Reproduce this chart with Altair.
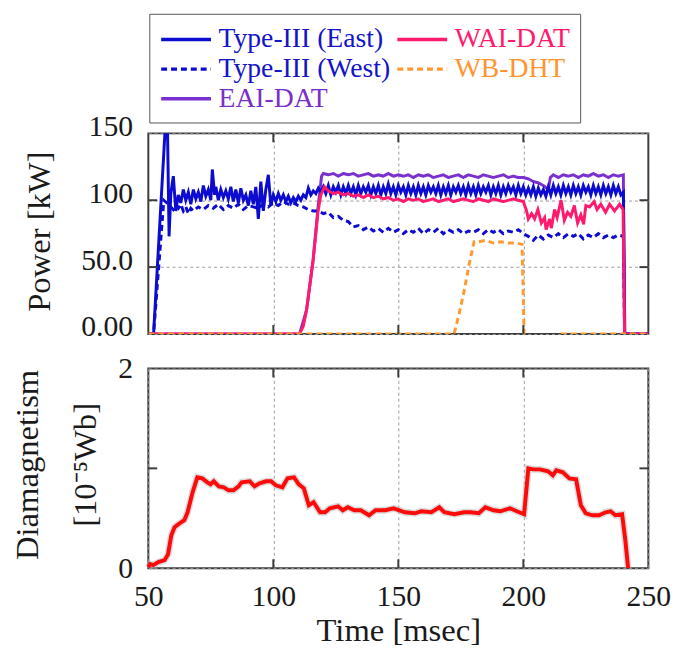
import altair as alt
import pandas as pd

# ---------------- data ----------------
series_names = ["Type-III (East)", "Type-III (West)", "EAI-DAT", "WAI-DAT", "WB-DHT"]
series_colors = ["#0c0cd0", "#0c0cd0", "#7a2fd0", "#ff1a6e", "#ff9a33"]
series_dash = [[1, 0], [6, 4], [1, 0], [1, 0], [6, 4]]

east_t = ([50, 52.1, 57.0, 57.6, 58.3] + list(range(59, 76)) + [75.6, 76.5]
          + list(range(77, 241)) + [240.6, 250])
east_p = ([0, 0, 162, 162, 73]
          + [105, 118, 92, 104, 98, 108, 100, 106, 97, 108, 101, 106, 99, 111, 103, 108, 100]
          + [123, 104]
          + [110, 100, 108, 102, 107, 101, 110, 99, 108, 98, 109, 100, 104, 96, 107, 97, 110, 86,
             114, 92, 108, 119, 96, 104, 99, 105, 100, 104, 99, 103, 98, 102, 99, 103, 100, 104,
             102, 109, 104, 107, 105, 109, 106]
          + [110, 105, 111, 104, 110, 106, 111, 104, 110, 105,
             111, 105, 110, 104, 111, 105, 110, 106, 111, 104,
             110, 105, 111, 104, 110, 105, 112, 105, 110, 104,
             111, 106, 110, 104, 111, 105, 110, 104, 111, 105,
             110, 104, 111, 106, 110, 105, 111, 104, 110, 105,
             111, 104, 110, 106, 111, 105, 110, 104, 111, 105,
             110, 104, 111, 105, 110, 106, 111, 104, 110, 105,
             111, 104, 110, 105, 111, 106, 110, 104, 111, 105,
             110, 104, 109, 104, 110, 103, 109, 104, 108, 103,
             110, 104, 111, 105, 110, 104, 111, 105, 110, 104,
             111, 105, 110, 104, 111, 106, 110, 104, 111, 105,
             110, 104, 111, 105, 110, 104, 111, 105, 110, 104,
             106]
          + [0, 0])

west_t = ([50, 52.1, 56.2, 58, 59, 60, 61, 62, 63, 64, 65, 66, 67, 68]
          + list(range(70, 117, 2)) + list(range(118, 241, 2)) + [240.5, 250])
west_p = ([0, 0, 100, 97, 95, 93, 96, 94, 97, 92, 95, 90, 94, 92]
          + [95, 93, 96, 94, 97, 93, 96, 94, 97, 93, 96, 95, 94, 97, 95, 98, 96, 99, 97, 98,
             96, 95, 93, 92]
          + [92, 90, 91, 87, 88, 85, 84, 80, 81, 78,
             80, 77, 79, 76, 79, 76, 78, 75, 78, 76,
             79, 75, 78, 76, 79, 75, 78, 76, 78, 75,
             77, 76, 78, 75, 78, 76, 78, 75, 77, 76,
             78, 75, 73, 70, 74, 71, 74, 72, 75, 72,
             75, 73, 75, 71, 74, 72, 75, 72, 74, 72,
             74, 73]
          + [0, 0])

eai_t = ([50, 110.5, 113.3, 115.9, 117.9, 119.3] + list(range(120, 211, 2)) + [210.8]
         + list(range(212, 241, 2)) + [240.5, 250])
eai_p = ([0, 0, 18, 55, 95, 118]
         + [120, 119, 120, 118, 120, 119, 120, 118, 119, 120,
            118, 119, 118, 120, 118, 119, 118, 119, 117, 119,
            118, 119, 117, 118, 119, 117, 118, 119, 117, 119,
            118, 117, 119, 118, 117, 118, 119, 117, 118, 117,
            117, 116, 114, 113, 111, 108]
         + [117]
         + [119, 117, 119, 118, 119, 117, 119, 118, 120, 118, 119, 117, 119, 118, 119]
         + [0, 0])

wai_t = ([50, 110.5, 112, 113.3, 114.5, 115.9, 117, 117.9, 119, 120.5] + list(range(122, 201, 2))
         + [201.3, 202, 203.3, 204.5, 205.8, 207.2, 208.5, 209.1, 210.5, 211.2,
            212.5, 213.5, 215.1, 216.4, 217.7, 219, 220.4, 221.7, 223, 224.1,
            225, 226.5, 228.3, 229.5, 231, 232.9, 234.5, 236.5, 238.5, 239.9,
            240.5, 250])
wai_p = ([0, 0, 6, 18, 35, 55, 75, 92, 104, 110]
         + [107, 105, 106, 104, 105, 103, 104, 102, 104, 102,
            103, 101, 102, 100, 101, 99, 101, 100, 101, 99,
            100, 101, 99, 100, 101, 99, 100, 101, 100, 99,
            101, 100, 99, 101, 100, 99, 100, 101, 100, 99]
         + [92, 86, 90, 86, 93, 83, 87, 78, 86, 79,
            93, 87, 100, 85, 91, 88, 96, 83, 89, 82,
            96, 95, 99, 93, 97, 91, 97, 92, 97, 93,
            0, 0])

wb1_t = [50, 172.3, 174.3, 176.3, 178.3, 180.3, 182.3, 185, 188, 191, 194, 197, 199.5, 200.3]
wb1_p = [0, 0, 15, 32, 52, 69, 69, 70, 68, 69, 68, 68, 67, 0]
wb2_t = [215, 250]
wb2_p = [0, 0]

diam_t = [50, 50.8, 52, 54, 56.5, 57.9, 59.2, 60.5, 62.5, 64.4,
          65.7, 67.7, 69.6, 71.6, 73.6, 74.9, 76.2, 78.2, 80.2, 82.1,
          84.1, 86.1, 87.3, 90.6, 92.5, 94.5, 97.1, 99.1, 101.0, 103.6,
          105.7, 108.3, 110.2, 112.2, 114.2, 116.1, 118.7, 120.7, 122.6, 125.9,
          127.8, 129.8, 132.4, 135.0, 138.3, 140.9, 144.8, 148.1, 152.6, 156.6,
          159.2, 163.2, 166.4, 168.4, 172.4, 176.3, 178.9, 182.2, 184.8, 188.1,
          190.8, 194.7, 197.4, 200.3, 202.0, 204.0, 206.6, 209.9, 211.8, 213.2,
          215.8, 218.4, 221.1, 223.0, 225.0, 227.6, 230.3, 232.9, 234.9, 236.8,
          239.5, 240.8, 241.9]
diam_v = [0.01, 0.04, 0.03, 0.06, 0.08, 0.14, 0.33, 0.41, 0.45, 0.48,
          0.56, 0.76, 0.91, 0.90, 0.86, 0.84, 0.87, 0.82, 0.81, 0.78,
          0.78, 0.82, 0.86, 0.87, 0.82, 0.85, 0.87, 0.87, 0.83, 0.81,
          0.90, 0.91, 0.84, 0.80, 0.63, 0.66, 0.56, 0.56, 0.60, 0.62,
          0.58, 0.61, 0.58, 0.58, 0.53, 0.58, 0.58, 0.60, 0.56, 0.55,
          0.57, 0.56, 0.61, 0.56, 0.54, 0.56, 0.56, 0.55, 0.61, 0.58,
          0.57, 0.60, 0.57, 0.54, 1.00, 0.99, 0.99, 0.97, 0.93, 0.98,
          0.96, 0.90, 0.89, 0.63, 0.55, 0.53, 0.53, 0.56, 0.57, 0.53,
          0.54, 0.28, 0.0]

x_ticks = [50, 100, 150, 200, 250]
x_inner = [100, 150, 200]
p_ticks = [0, 50, 100, 150]
p_inner = [50, 100]
d_ticks = [0, 1, 2]
d_inner = [1]

# ---------------- build tables ----------------
def seg(name, segid, ts, ps):
    return pd.DataFrame({"t": ts, "p": ps, "series": name, "seg": segid})

df_top = pd.concat([
    seg("EAI-DAT", "eai", eai_t, eai_p),
    seg("Type-III (East)", "east", east_t, east_p),
    seg("Type-III (West)", "west", west_t, west_p),
    seg("WAI-DAT", "wai", wai_t, wai_p),
    seg("WB-DHT", "wb1", wb1_t, wb1_p),
    seg("WB-DHT", "wb2", wb2_t, wb2_p),
], ignore_index=True)
df_d = pd.DataFrame({"t": diam_t, "d": diam_v})

# ---------------- style ----------------
W, H1, H2 = 506, 203, 202
frame = "#3c3c3c"
grid_c = "#9c9c9c"
font = "Liberation Serif"
x_scale = alt.Scale(domain=[50, 250], nice=False, zero=False)
p_scale = alt.Scale(domain=[0, 150], nice=False)
d_scale = alt.Scale(domain=[0, 2], nice=False)

label_color_expr = ("datum.value === 'WAI-DAT' ? '#ff1a6e' : datum.value === 'WB-DHT' ? '#ff9430' : "
                    "datum.value === 'EAI-DAT' ? '#7a30c8' : '#1414c8'")
leg = alt.Legend(orient="none", legendX=1, legendY=-121, columns=2,
                 symbolType="M-1,0H2.6", symbolSize=784, symbolStrokeWidth=3.5,
                 labelFontSize=28, labelFont=font, labelOffset=28, rowPadding=0,
                 columnPadding=0, padding=10, strokeColor="#555555", fillColor="white",
                 labelLimit=400, labelColor={"expr": label_color_expr})

x_top_axis = alt.Axis(values=x_inner, labels=False, ticks=False, tickSize=0, domain=False,
                      grid=True, gridColor=grid_c, gridDash=[3, 3], gridWidth=1)
p_axis = alt.Axis(values=p_ticks,
                  labelExpr="datum.value == 0 ? '0.00' : datum.value == 50 ? '50.0' : datum.label",
                  ticks=False, tickSize=0, domain=False, labelPadding=16, labelOffset=-7,
                  labelFlush=False,
                  grid=True, gridColor=grid_c, gridDash=[3, 3], gridWidth=1,
                  titleX=-110, titleY=99, titleAngle=270, titleAlign="center", titleBaseline="middle")
x_bot_axis = alt.Axis(values=x_ticks, ticks=False, tickSize=0, domain=False, labelPadding=14,
                      labelFlush=False, titlePadding=3,
                      grid=True, gridColor=grid_c, gridDash=[3, 3], gridWidth=1)
d_axis = alt.Axis(values=d_ticks, format="d", ticks=False, tickSize=0, domain=False, labelPadding=16,
                  labelFlush=False,
                  grid=True, gridColor=grid_c, gridDash=[3, 3], gridWidth=1,
                  titleX=-122, titleY=97, titleAngle=270, titleAlign="center",
                  titleBaseline="middle", titleLineHeight=59)

P_TITLE = "Power [kW]"
D_TITLE = ["Diamagnetism", "[10⁻⁵Wb]"]
X_TITLE = "Time [msec]"

lines = alt.Chart(df_top).mark_line(strokeWidth=3, clip=True).encode(
    x=alt.X("t:Q", scale=x_scale, axis=x_top_axis, title=None),
    y=alt.Y("p:Q", scale=p_scale, axis=p_axis, title=P_TITLE),
    color=alt.Color("series:N", scale=alt.Scale(domain=series_names, range=series_colors),
                    legend=leg, title=None),
    strokeDash=alt.StrokeDash("series:N", scale=alt.Scale(domain=series_names, range=series_dash),
                              legend=leg, title=None),
    detail="seg:N",
)


def inner_ticks(vals_y, yscale, yaxis, ytitle, xaxis, xtitle, h):
    dy = pd.DataFrame({"v": vals_y})
    dx = pd.DataFrame({"v": x_inner})
    r = dict(color=frame, strokeWidth=2)
    yl = alt.Chart(dy).mark_rule(**r).encode(
        y=alt.Y("v:Q", scale=yscale, axis=yaxis, title=ytitle), x=alt.value(0), x2=alt.value(9))
    yr = alt.Chart(dy).mark_rule(**r).encode(
        y=alt.Y("v:Q", scale=yscale, axis=yaxis, title=ytitle), x=alt.value(W - 9), x2=alt.value(W))
    xt = alt.Chart(dx).mark_rule(**r).encode(
        x=alt.X("v:Q", scale=x_scale, axis=xaxis, title=xtitle), y=alt.value(0), y2=alt.value(9))
    xb = alt.Chart(dx).mark_rule(**r).encode(
        x=alt.X("v:Q", scale=x_scale, axis=xaxis, title=xtitle), y=alt.value(h - 9), y2=alt.value(h))
    return [yl, yr, xt, xb]


top = alt.layer(lines, *inner_ticks(p_inner, p_scale, p_axis, P_TITLE, x_top_axis, None, H1)
                ).properties(width=W, height=H1)

halo = alt.Chart(df_d).mark_line(color="#b8b8b8", strokeWidth=7, opacity=0.5).encode(
    x=alt.X("t:Q", scale=x_scale, axis=x_bot_axis, title=X_TITLE),
    y=alt.Y("d:Q", scale=d_scale, axis=d_axis, title=D_TITLE),
)
red = alt.Chart(df_d).mark_line(color="#ff0a0a", strokeWidth=4).encode(
    x=alt.X("t:Q", scale=x_scale, axis=x_bot_axis, title=X_TITLE),
    y=alt.Y("d:Q", scale=d_scale, axis=d_axis, title=D_TITLE),
)
bottom = alt.layer(halo, red, *inner_ticks(d_inner, d_scale, d_axis, D_TITLE, x_bot_axis, X_TITLE, H2)
                   ).properties(width=W, height=H2)

chart = alt.vconcat(top, bottom, spacing=10).properties(
    padding={"left": 2, "top": 1, "right": 5, "bottom": 2}
).configure(font=font).configure_axis(
    labelFont=font, titleFont=font, labelColor="#1a1a1a", titleColor="#1a1a1a",
    titleFontWeight="normal", labelFontSize=30, titleFontSize=33,
).configure_legend(labelFont=font).configure_view(stroke=frame, strokeWidth=2)

chart.save("out.html", embed_options={"renderer": "svg", "actions": False})
